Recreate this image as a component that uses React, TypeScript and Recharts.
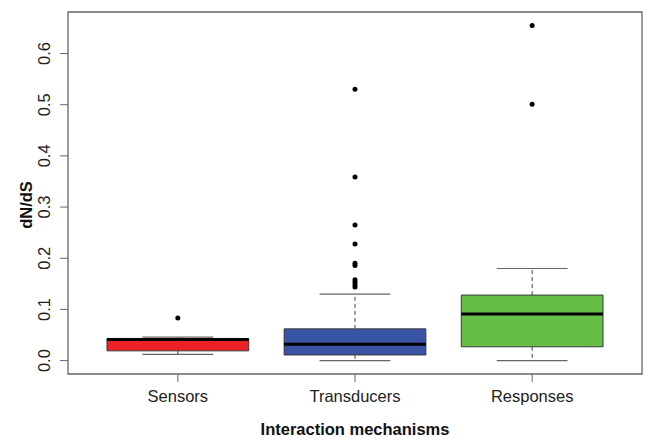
import React from 'react';
import {
  ComposedChart,
  XAxis,
  YAxis,
  Scatter,
  ReferenceArea,
  ReferenceLine,
} from 'recharts';

const categories = ['Sensors', 'Transducers', 'Responses'];
const whiskerLow = [0.012, 0.0, 0.0];
const q1 = [0.019, 0.011, 0.027];
const median = [0.041, 0.032, 0.091];
const q3 = [0.043, 0.062, 0.128];
const whiskerHigh = [0.046, 0.13, 0.18];
const sensorsOutliers = [0.083];
const transducersOutliers = [0.53, 0.359, 0.265, 0.228, 0.19, 0.186, 0.158, 0.153, 0.148, 0.144];
const responsesOutliers = [0.655, 0.501];
const yTicks = [0, 0.1, 0.2, 0.3, 0.4, 0.5, 0.6];
const boxColors = ['#EC2227', '#3953A5', '#67BE46'];

const outlierData = [
  ...sensorsOutliers.map((y) => ({ x: 1, y })),
  ...transducersOutliers.map((y) => ({ x: 2, y })),
  ...responsesOutliers.map((y) => ({ x: 3, y })),
];

const FONT = '"Liberation Sans", Arial, Helvetica, sans-serif';
const Y_MIN = -0.0262;
const Y_MAX = 0.6812;
const X_MIN = 0.38;
const X_MAX = 3.62;
const HALF_BOX = 0.4;
const HALF_CAP = 0.2;

const YTick = (props: any) => {
  const { y, payload } = props;
  const bx = 50;
  return (
    <text
      x={bx}
      y={y}
      transform={`rotate(-90, ${bx}, ${y})`}
      textAnchor="middle"
      fontFamily={FONT}
      fontSize={16.5}
      fill="#222"
    >
      {Number(payload.value).toFixed(1)}
    </text>
  );
};

const YTitle = () => (
  <text
    x={32}
    y={205}
    transform="rotate(-90, 32, 205)"
    textAnchor="middle"
    fontFamily={FONT}
    fontSize={16.5}
    fontWeight="bold"
    fill="#111"
  >
    dN/dS
  </text>
);

const XTitle = () => (
  <text
    x={355}
    y={435}
    textAnchor="middle"
    fontFamily={FONT}
    fontSize={16.5}
    fontWeight="bold"
    fill="#111"
  >
    Interaction mechanisms
  </text>
);

const OutlierDot = (props: any) => {
  const { cx, cy } = props;
  if (cx == null || cy == null) return null;
  return <circle cx={cx} cy={cy} r={2.5} fill="#000" />;
};

export default function App() {
  return (
    <div style={{ position: 'absolute', left: 0, top: 0, background: '#fff' }}>
      <ComposedChart
        width={655}
        height={446}
        margin={{ top: 12, right: 13, bottom: 0, left: 0 }}
      >
        <XAxis
          dataKey="x"
          type="number"
          domain={[X_MIN, X_MAX]}
          ticks={[1, 2, 3]}
          tickFormatter={(v: number) => categories[v - 1]}
          allowDataOverflow
          height={72}
          axisLine={false}
          tickLine={{ stroke: '#666', strokeWidth: 1 }}
          tickSize={8}
          tickMargin={8}
          tick={{ fontFamily: FONT, fontSize: 16.5, fill: '#222' }}
          label={<XTitle />}
        />
        <YAxis
          dataKey="y"
          type="number"
          domain={[Y_MIN, Y_MAX]}
          ticks={yTicks}
          allowDataOverflow
          width={68}
          axisLine={false}
          tickLine={{ stroke: '#666', strokeWidth: 1 }}
          tickSize={8}
          tick={<YTick />}
          label={<YTitle />}
        />
        {categories.map((c, i) => (
          <ReferenceLine
            key={`wu-${c}`}
            segment={[
              { x: i + 1, y: q3[i] },
              { x: i + 1, y: whiskerHigh[i] },
            ]}
            stroke="#444"
            strokeWidth={1}
            strokeDasharray="4 3"
          />
        ))}
        {categories.map((c, i) => (
          <ReferenceLine
            key={`wl-${c}`}
            segment={[
              { x: i + 1, y: q1[i] },
              { x: i + 1, y: whiskerLow[i] },
            ]}
            stroke="#444"
            strokeWidth={1}
            strokeDasharray="4 3"
          />
        ))}
        {categories.map((c, i) => (
          <ReferenceLine
            key={`cu-${c}`}
            segment={[
              { x: i + 1 - HALF_CAP, y: whiskerHigh[i] },
              { x: i + 1 + HALF_CAP, y: whiskerHigh[i] },
            ]}
            stroke="#666"
            strokeWidth={1.2}
          />
        ))}
        {categories.map((c, i) => (
          <ReferenceLine
            key={`cl-${c}`}
            segment={[
              { x: i + 1 - HALF_CAP, y: whiskerLow[i] },
              { x: i + 1 + HALF_CAP, y: whiskerLow[i] },
            ]}
            stroke="#666"
            strokeWidth={1.2}
          />
        ))}
        {categories.map((c, i) => (
          <ReferenceArea
            key={`box-${c}`}
            x1={i + 1 - HALF_BOX}
            x2={i + 1 + HALF_BOX}
            y1={q1[i]}
            y2={q3[i]}
            fill={boxColors[i]}
            fillOpacity={1}
            stroke="#3a3a3a"
            strokeWidth={1}
          />
        ))}
        {categories.map((c, i) => (
          <ReferenceLine
            key={`med-${c}`}
            segment={[
              { x: i + 1 - HALF_BOX, y: median[i] },
              { x: i + 1 + HALF_BOX, y: median[i] },
            ]}
            stroke="#000"
            strokeWidth={3}
          />
        ))}
        <ReferenceArea
          x1={X_MIN}
          x2={X_MAX}
          y1={Y_MIN}
          y2={Y_MAX}
          fill="none"
          fillOpacity={0}
          stroke="#666"
          strokeWidth={1.3}
        />
        <Scatter
          data={outlierData}
          dataKey="y"
          shape={<OutlierDot />}
          isAnimationActive={false}
        />
      </ComposedChart>
    </div>
  );
}
